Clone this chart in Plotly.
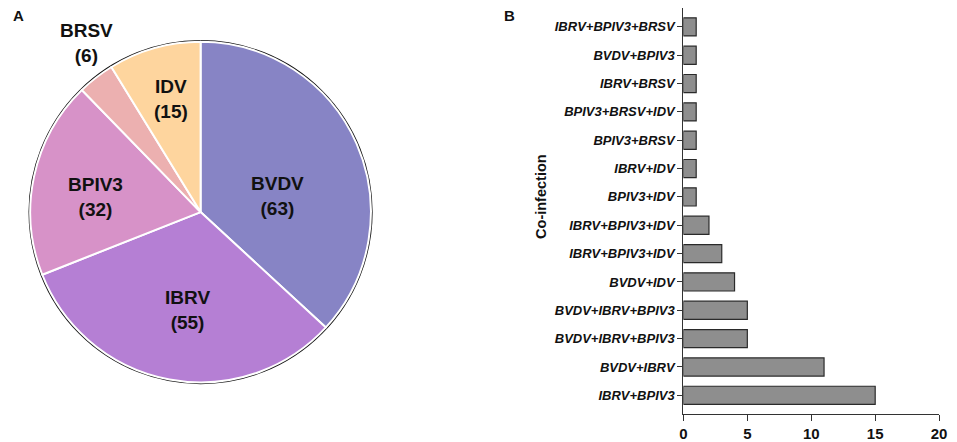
import plotly.graph_objects as go

# panel A: single infections
virus = ["BVDV", "IBRV", "BPIV3", "BRSV", "IDV"]
virus_n = [63, 55, 32, 6, 15]
virus_colors = ["#8784C5", "#B57FD4", "#D792C8", "#ECB0B0", "#FED59E"]

# panel B: co-infections, bottom to top
coinf = ["IBRV+BPIV3", "BVDV+IBRV", "BVDV+IBRV+BPIV3", "BVDV+IBRV+BPIV3",
         "BVDV+IDV", "IBRV+BPIV3+IDV", "IBRV+BPIV3+IDV", "BPIV3+IDV",
         "IBRV+IDV", "BPIV3+BRSV", "BPIV3+BRSV+IDV", "IBRV+BRSV",
         "BVDV+BPIV3", "IBRV+BPIV3+BRSV"]
coinf_n = [15, 11, 5, 5, 4, 3, 2, 1, 1, 1, 1, 1, 1, 1]

# page body has an 8px margin, so the figure is a bit smaller than the window
W, H = 949, 434
FONT = "Liberation Sans, Arial, sans-serif"

def px(x):
    return x / W

def py(y):
    return 1 - y / H

# pie geometry (pixels, figure coords)
cx, cy, r = 191, 205.5, 172.5
pie_x = [px(cx - r), px(cx + r)]
pie_y = [py(cy + r), py(cy - r)]

# black rim underneath, coloured slices with white dividers on top
rim = go.Pie(
    values=[sum(virus_n)], labels=["all"], sort=False, textinfo="none",
    marker=dict(colors=["white"], line=dict(color="#111", width=3.5)),
    domain=dict(x=pie_x, y=pie_y), showlegend=False, hoverinfo="skip",
)
pie = go.Pie(
    labels=virus, values=virus_n, sort=False, direction="clockwise", rotation=0,
    marker=dict(colors=virus_colors, line=dict(color="white", width=2)),
    textinfo="none", domain=dict(x=pie_x, y=pie_y), showlegend=False,
    hoverinfo="label+value",
)

bars = go.Bar(
    x=coinf_n, y=list(range(len(coinf))), orientation="h", width=0.64,
    marker=dict(color="#8E8E8E", line=dict(color="#2a2a2a", width=1.2)),
    showlegend=False, xaxis="x", yaxis="y",
)

fig = go.Figure([rim, pie, bars])

# slice labels, placed by hand like the original figure
label_pos = {"BVDV": (269, 189), "IBRV": (178, 304), "BPIV3": (85, 190),
             "BRSV": (75, 35), "IDV": (161, 92)}

def note(text, x, y, size, angle=0):
    return dict(text=text, x=px(x), y=py(y), xref="paper", yref="paper",
                xanchor="center", yanchor="middle", showarrow=False, textangle=angle,
                font=dict(size=size, family=FONT, color="#111"))

annots = []
for v, n in zip(virus, virus_n):
    lx, ly = label_pos[v]
    annots.append(note("<b>%s<br>(%d)</b>" % (v, n), lx, ly, 19))

annots += [
    note("<b>A</b>", 7, 8, 15),
    note("<b>B</b>", 504, 8, 15),
    note("<b>Co-infection</b>", 535, 190, 14.5, angle=-90),
]

fig.update_layout(
    width=W, height=H, margin=dict(l=0, r=0, t=0, b=0),
    paper_bgcolor="white", plot_bgcolor="white",
    font=dict(family=FONT, color="#111"),
    xaxis=dict(domain=[px(680), px(939)], range=[0, 20], tickvals=[0, 5, 10, 15, 20],
               showgrid=False, zeroline=False, showline=True, linecolor="#333", linewidth=1.2,
               ticks="outside", ticklen=6, tickcolor="#333",
               tickfont=dict(family=FONT, size=15, color="#111", weight="bold")),
    yaxis=dict(domain=[25 / H, 1], range=[-0.666, 13.666],
               tickvals=list(range(len(coinf))), ticktext=coinf,
               showgrid=False, zeroline=False, showline=True, linecolor="#333", linewidth=1.2,
               ticks="outside", ticklen=5, tickcolor="#333",
               tickfont=dict(family=FONT, size=13, color="#111", weight="bold", style="italic")),
    annotations=annots,
)

fig.write_html("out.html")
